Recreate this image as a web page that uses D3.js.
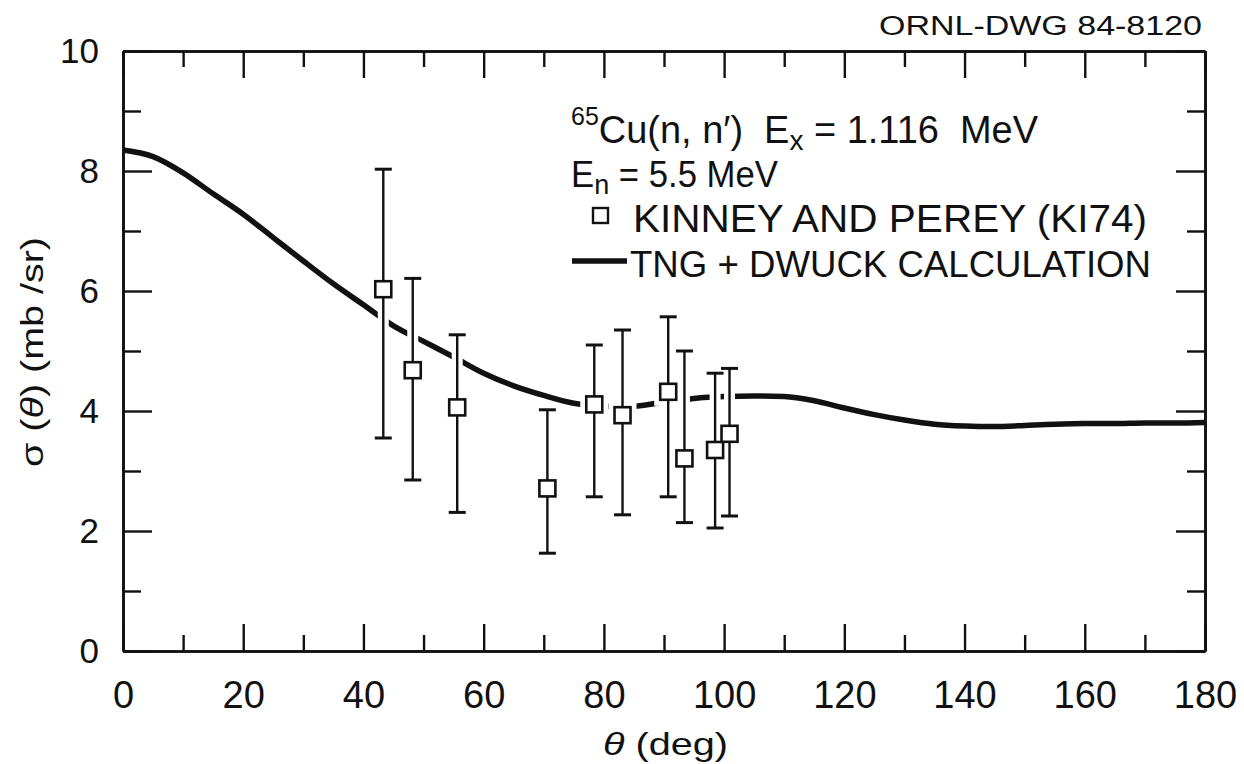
<!DOCTYPE html>
<html>
<head>
<meta charset="utf-8">
<script src="https://cdn.jsdelivr.net/npm/d3@7/dist/d3.min.js"></script>
<style>
  body { margin: 0; background: #fff; }
  text { font-family: "Liberation Sans", Arial, sans-serif; fill: #111; white-space: pre; }
</style>
</head>
<body>
<svg width="1244" height="764"></svg>
<script>
// TNG + DWUCK calculation, every 5 deg
var calcTheta = [0, 5, 10, 15, 20, 25, 30, 35, 40, 45, 50, 55, 60, 65, 70, 75, 80, 85, 90,
                 95, 100, 105, 110, 115, 120, 125, 130, 135, 140, 145, 150, 155, 160, 165, 170, 175, 180];
var calcSigma = [8.35, 8.24, 7.97, 7.62, 7.28, 6.89, 6.50, 6.12, 5.77, 5.42, 5.16, 4.90, 4.63, 4.42, 4.26, 4.13, 4.08, 4.08, 4.15,
                 4.21, 4.24, 4.25, 4.24, 4.17, 4.05, 3.94, 3.85, 3.78, 3.75, 3.74, 3.76, 3.78, 3.79, 3.79, 3.80, 3.80, 3.81];

// Kinney and Perey (KI74)
var expTheta = [43.3, 48.2, 55.6, 70.6, 78.4, 83.1, 90.7, 93.4, 98.5, 100.9];
var expSigma = [6.03, 4.68, 4.06, 2.71, 4.11, 3.93, 4.32, 3.21, 3.35, 3.62];
var expHigh  = [8.03, 6.21, 5.27, 4.02, 5.10, 5.35, 5.57, 5.00, 4.63, 4.71];
var expLow   = [3.55, 2.85, 2.31, 1.63, 2.57, 2.27, 2.57, 2.14, 2.05, 2.25];

var xMajor = [0, 20, 40, 60, 80, 100, 120, 140, 160, 180];
var xMinor = [10, 30, 50, 70, 90, 110, 130, 150, 170];
var yMajor = [0, 2, 4, 6, 8, 10];
var yMinor = [1, 3, 5, 7, 9];

var svg = d3.select('svg');
var plotL = 123, plotR = 1205, plotT = 51, plotB = 651;

var x = d3.scaleLinear().domain([0, 180]).range([plotL, plotR]);
var y = d3.scaleLinear().domain([0, 10]).range([plotB, plotT]);

var ink = '#111';

// frame + ticks
function styleAxis(g) {
  g.selectAll('path.domain').attr('stroke', ink).attr('stroke-width', 2.6);
  g.selectAll('.tick line').attr('stroke', ink).attr('stroke-width', 2.4);
  g.selectAll('.tick text').attr('fill', ink).style('font-family', '"Liberation Sans", Arial, sans-serif');
}

svg.append('g').attr('transform', 'translate(0,' + plotB + ')')
  .call(d3.axisBottom(x).tickValues(xMajor).tickSize(-27).tickSizeOuter(0).tickPadding(30))
  .call(styleAxis)
  .call(function(g) { g.selectAll('.tick text').style('font-size', '38px'); });
svg.append('g').attr('transform', 'translate(0,' + plotB + ')')
  .call(d3.axisBottom(x).tickValues(xMinor).tickSize(-16).tickSizeOuter(0).tickFormat(''))
  .call(styleAxis);
svg.append('g').attr('transform', 'translate(0,' + plotT + ')')
  .call(d3.axisTop(x).tickValues(xMajor).tickSize(-27).tickSizeOuter(0).tickFormat(''))
  .call(styleAxis);
svg.append('g').attr('transform', 'translate(0,' + plotT + ')')
  .call(d3.axisTop(x).tickValues(xMinor).tickSize(-16).tickSizeOuter(0).tickFormat(''))
  .call(styleAxis);

svg.append('g').attr('transform', 'translate(' + plotL + ',0)')
  .call(d3.axisLeft(y).tickValues(yMajor).tickSize(-29).tickSizeOuter(0).tickPadding(24))
  .call(styleAxis)
  .call(function(g) { g.selectAll('.tick text').style('font-size', '35px'); });
svg.append('g').attr('transform', 'translate(' + plotL + ',0)')
  .call(d3.axisLeft(y).tickValues(yMinor).tickSize(-18).tickSizeOuter(0).tickFormat(''))
  .call(styleAxis);
svg.append('g').attr('transform', 'translate(' + plotR + ',0)')
  .call(d3.axisRight(y).tickValues(yMajor).tickSize(-29).tickSizeOuter(0).tickFormat(''))
  .call(styleAxis);
svg.append('g').attr('transform', 'translate(' + plotR + ',0)')
  .call(d3.axisRight(y).tickValues(yMinor).tickSize(-18).tickSizeOuter(0).tickFormat(''))
  .call(styleAxis);

// calculation curve
var line = d3.line()
  .x(function(d, i) { return x(calcTheta[i]); })
  .y(function(d) { return y(d); })
  .curve(d3.curveMonotoneX);

svg.append('path')
  .datum(calcSigma)
  .attr('d', line)
  .attr('fill', 'none')
  .attr('stroke', ink)
  .attr('stroke-width', 5.5);

// white gaps where the curve runs under the data
var pts = expTheta.map(function(t, i) {
  return { t: t, s: expSigma[i], hi: expHigh[i], lo: expLow[i] };
});
var gaps = svg.append('g');
gaps.selectAll('line').data(pts).enter().append('line')
  .attr('x1', function(d) { return x(d.t); })
  .attr('x2', function(d) { return x(d.t); })
  .attr('y1', function(d) { return y(d.hi); })
  .attr('y2', function(d) { return y(d.lo); })
  .attr('stroke', '#fff')
  .attr('stroke-width', 11);
gaps.selectAll('rect').data(pts).enter().append('rect')
  .attr('x', function(d) { return x(d.t) - 14; })
  .attr('y', function(d) { return y(d.s) - 14; })
  .attr('width', 28).attr('height', 28)
  .attr('fill', '#fff');

// error bars
var bars = svg.append('g').attr('stroke', ink).attr('stroke-width', 2.4);
var capW = 8.5;
pts.forEach(function(d) {
  bars.append('line').attr('x1', x(d.t)).attr('x2', x(d.t)).attr('y1', y(d.hi)).attr('y2', y(d.lo));
  bars.append('line').attr('x1', x(d.t) - capW).attr('x2', x(d.t) + capW).attr('y1', y(d.hi)).attr('y2', y(d.hi)).attr('stroke-width', 3);
  bars.append('line').attr('x1', x(d.t) - capW).attr('x2', x(d.t) + capW).attr('y1', y(d.lo)).attr('y2', y(d.lo)).attr('stroke-width', 3);
});
svg.append('g').selectAll('rect').data(pts).enter().append('rect')
  .attr('x', function(d) { return x(d.t) - 8; })
  .attr('y', function(d) { return y(d.s) - 8; })
  .attr('width', 16).attr('height', 16)
  .attr('fill', '#fff')
  .attr('stroke', ink)
  .attr('stroke-width', 2.6);

// axis titles
svg.append('text')
  .attr('x', 603).attr('y', 755)
  .attr('textLength', 125).attr('lengthAdjust', 'spacingAndGlyphs')
  .style('font-size', '32px')
  .html('<tspan font-style="italic">θ</tspan> (deg)');

svg.append('text')
  .attr('transform', 'translate(43,467) rotate(-90)')
  .attr('textLength', 230).attr('lengthAdjust', 'spacingAndGlyphs')
  .style('font-size', '32px')
  .html('σ (<tspan font-style="italic">θ</tspan>) (mb /sr)');

// drawing number
svg.append('text')
  .attr('x', 879).attr('y', 35)
  .attr('textLength', 323).attr('lengthAdjust', 'spacingAndGlyphs')
  .style('font-size', '27px')
  .text('ORNL-DWG 84-8120');

// legend
var lx = 571;
svg.append('text')
  .attr('x', lx).attr('y', 143)
  .attr('textLength', 467).attr('lengthAdjust', 'spacingAndGlyphs')
  .style('font-size', '38px')
  .html('<tspan font-size="25" dy="-18">65</tspan><tspan dy="18">Cu(n, n′)  E</tspan><tspan font-size="28" dy="7">x</tspan><tspan dy="-7"> = 1.116  MeV</tspan>');
svg.append('text')
  .attr('x', lx).attr('y', 187)
  .attr('textLength', 207).attr('lengthAdjust', 'spacingAndGlyphs')
  .style('font-size', '36px')
  .html('E<tspan font-size="28" dy="7">n</tspan><tspan dy="-7"> = 5.5 MeV</tspan>');

svg.append('rect')
  .attr('x', 593).attr('y', 208).attr('width', 15).attr('height', 15)
  .attr('fill', '#fff').attr('stroke', ink).attr('stroke-width', 2.4);
svg.append('text')
  .attr('x', 633).attr('y', 232)
  .attr('textLength', 514).attr('lengthAdjust', 'spacingAndGlyphs')
  .style('font-size', '39px')
  .text('KINNEY AND PEREY (KI74)');

svg.append('line')
  .attr('x1', 572).attr('x2', 627).attr('y1', 261).attr('y2', 261)
  .attr('stroke', ink).attr('stroke-width', 5.5);
svg.append('text')
  .attr('x', 630).attr('y', 277)
  .attr('textLength', 521).attr('lengthAdjust', 'spacingAndGlyphs')
  .style('font-size', '37px')
  .text('TNG + DWUCK CALCULATION');
</script>
</body>
</html>
